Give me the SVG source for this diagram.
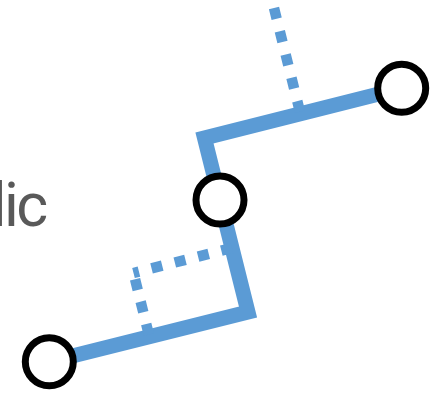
<svg xmlns="http://www.w3.org/2000/svg" width="437" height="393" viewBox="0 0 437 393">
<style>
.route{fill:none;stroke:#5B9BD5;stroke-width:15;stroke-linejoin:miter}
.dot{fill:none;stroke:#5B9BD5;stroke-width:10.5;stroke-dasharray:11 13}
.stop{fill:#FFFFFF;stroke:#000000;stroke-width:7}
.lbl{font-family:Roboto,"Liberation Sans",sans-serif;font-size:61px;letter-spacing:-2.5px;fill:#595959}
</style>
<rect width="437" height="393" fill="#FFFFFF"/>
<g id="label"><text class="lbl" x="-8.3" y="226">lic</text></g>
<g id="connectors">
<polyline class="route" points="49.3,361.7 248,312 204.5,138 401.7,88.3"/>
<path class="dot" d="M274,8 L300.5,114"/>
<path class="dot" d="M133.5,273 L149.4,336.8" style="stroke-dasharray:11 12;stroke-dashoffset:16.5"/>
<path class="dot" d="M232,248 L133.5,273"/>
</g>
<g id="stop-a"><circle class="stop" cx="49.3" cy="361.7" r="24"/></g>
<g id="stop-b"><circle class="stop" cx="220" cy="200" r="24"/></g>
<g id="stop-c"><circle class="stop" cx="401.7" cy="88.3" r="24"/></g>
</svg>
